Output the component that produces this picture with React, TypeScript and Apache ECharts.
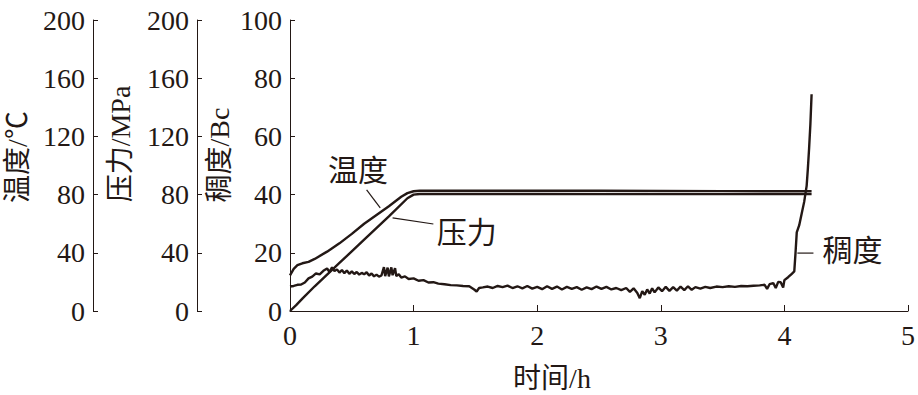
import React, { useEffect, useRef } from "react";
import * as echarts from "echarts";

const INK = "#231815";
const FONT = "'Liberation Serif', 'Noto Sans CJK SC', serif";
const CJK = "'Noto Sans CJK SC', 'Liberation Serif', serif";

// 温度 (℃)
const tempTime = [0, 0.03, 0.06, 0.1, 0.15, 0.2, 0.3, 0.4, 0.5, 0.6, 0.7, 0.8, 0.9, 0.95, 1.0, 1.05, 1.5, 2.0, 2.5, 3.0, 3.5, 4.0, 4.22];
const tempValue = [24.5, 29, 31.5, 32.8, 33.8, 35.8, 40.8, 46.5, 53, 60, 66, 72, 78.5, 81, 82.3, 82.6, 82.6, 82.7, 82.6, 82.5, 82.4, 82.3, 82.3];

// 压力 (MPa)
const presTime = [0, 0.05, 0.1, 0.2, 0.4, 0.6, 0.8, 0.95, 1.0, 1.05, 2, 3, 4, 4.22];
const presValue = [0, 4, 8.5, 17, 33, 49, 65, 77.5, 80, 80.4, 80.4, 80.3, 80.3, 80.3];

// 稠度 (Bc)
const consTime = [
  0.0, 0.03, 0.06, 0.09, 0.12, 0.15, 0.18, 0.21, 0.24, 0.27, 0.3, 0.32, 0.34, 0.36, 0.38, 0.4, 0.42, 0.44, 0.46, 0.48,
  0.5, 0.52, 0.54, 0.56, 0.58, 0.6, 0.62, 0.64, 0.66, 0.68, 0.7, 0.72, 0.74, 0.76, 0.77, 0.79, 0.8, 0.82, 0.83, 0.85,
  0.86, 0.88, 0.9, 0.93, 0.96, 1.0, 1.04, 1.08, 1.12, 1.16, 1.2, 1.25, 1.3, 1.35, 1.4, 1.45, 1.49, 1.51, 1.53, 1.56,
  1.6, 1.64, 1.68, 1.72, 1.76, 1.8, 1.84, 1.88, 1.92, 1.96, 2.0, 2.04, 2.08, 2.12, 2.16, 2.2, 2.24, 2.28, 2.32, 2.36,
  2.4, 2.44, 2.48, 2.52, 2.56, 2.6, 2.64, 2.68, 2.72, 2.75, 2.78, 2.81, 2.83, 2.85, 2.87, 2.89, 2.91, 2.93, 2.95, 2.98,
  3.01, 3.04, 3.07, 3.1, 3.13, 3.16, 3.19, 3.22, 3.25, 3.28, 3.32, 3.36, 3.4, 3.45, 3.5, 3.55, 3.6, 3.65, 3.7, 3.75,
  3.8, 3.84, 3.86, 3.88, 3.91, 3.93, 3.95, 3.97, 3.99, 4.0, 4.03, 4.06, 4.08, 4.09, 4.1, 4.12, 4.14, 4.16, 4.18, 4.19,
  4.2, 4.21, 4.22,
];
const consValue = [
  8.4, 8.6, 9.0, 9.1, 9.8, 11.2, 11.8, 12.9, 12.6, 13.8, 14.6, 13.4, 15.0, 13.7, 14.3, 13.2, 14.1, 13.0, 13.9, 12.8,
  13.6, 12.7, 13.4, 12.5, 13.1, 12.6, 13.3, 12.2, 12.9, 11.9, 12.5, 11.8, 12.2, 15.1, 12.0, 14.9, 11.9, 15.0, 12.3, 14.7,
  12.0, 12.6, 11.5, 11.9, 11.0, 11.2, 10.4, 10.6, 9.8, 9.9, 9.4, 9.2, 8.9, 8.8, 8.6, 8.5, 7.4, 6.7, 7.9, 8.1,
  8.4, 7.9, 8.6, 8.2, 8.7, 7.9, 8.5, 7.8, 8.6, 7.7, 8.3, 7.5, 8.5, 7.6, 8.4, 7.4, 8.3, 7.6, 8.2, 7.3,
  8.1, 7.5, 8.4, 7.6, 8.3, 7.4, 7.9, 7.2, 7.9, 6.6, 7.8, 6.2, 4.4, 6.8, 5.6, 7.4, 6.0, 7.8, 6.4, 8.1,
  6.8, 8.3, 6.9, 8.2, 7.0, 8.4, 7.2, 8.5, 7.3, 8.2, 7.7, 8.3, 7.9, 8.4, 8.2, 8.5, 8.3, 8.6, 8.5, 8.7,
  8.8, 9.0, 7.6, 9.2, 9.6, 7.9, 10.0, 9.9, 8.1, 10.6, 11.6, 12.8, 13.6, 20.0, 27.0, 29.5, 33.5, 37.5, 43.0, 49.0,
  56.0, 64.0, 74.5,
];

// 注释（数据坐标：时间 h，稠度轴数值）
const labelTexts = ["温度", "压力", "稠度"];
const labelAt = [[0.55, 49.1], [1.43, 27.8], [4.55, 21.6]];
const leaderFrom = [[0.62, 41.6], [0.83, 32.0], [4.105, 19.9]];
const leaderTo = [[0.73, 35.4], [1.16, 29.9], [4.235, 19.9]];

const pairs = (t: number[], v: number[]) => t.map((x, i) => [x, v[i]]);

export default function App() {
  const ref = useRef<HTMLDivElement>(null);
  useEffect(() => {
    const chart = echarts.init(ref.current!, null, { renderer: "svg" });
    const yBase = (offset: number, max: number, interval: number) => ({
      type: "value",
      position: "left",
      offset,
      min: 0,
      max,
      interval,
      axisLine: { show: true, onZero: false, lineStyle: { color: INK, width: 1 } },
      axisTick: { show: true, inside: true, length: 5, lineStyle: { color: INK } },
      axisLabel: { color: INK, fontSize: 28, fontFamily: FONT, margin: 8 },
      splitLine: { show: false },
    });
    const lineSeries = (name: string, data: number[][], yIdx: number) => ({
      name,
      type: "line",
      yAxisIndex: yIdx,
      data,
      showSymbol: false,
      symbol: "none",
      lineStyle: { color: INK, width: 2.4 },
      z: 3,
    });
    chart.setOption({
      animation: false,
      grid: { left: 290, right: 10, top: 20, bottom: 84, containLabel: false },
      xAxis: {
        type: "value",
        min: 0,
        max: 5,
        interval: 1,
        axisLine: { show: true, onZero: false, lineStyle: { color: INK, width: 1 } },
        axisTick: { show: true, inside: true, length: 6, lineStyle: { color: INK } },
        axisLabel: { color: INK, fontSize: 28, fontFamily: FONT, margin: 10 },
        splitLine: { show: false },
      },
      yAxis: [yBase(0, 100, 20), yBase(93, 200, 40), yBase(197, 200, 40)],
      series: [
        lineSeries("稠度", pairs(consTime, consValue), 0),
        lineSeries("压力", pairs(presTime, presValue), 1),
        lineSeries("温度", pairs(tempTime, tempValue), 2),
      ],
    });

    const px = (p: number[]) => chart.convertToPixel({ xAxisIndex: 0, yAxisIndex: 0 }, p) as number[];
    const graphics: any[] = [];
    labelTexts.forEach((t, i) => {
      const c = px(labelAt[i]);
      const a = px(leaderFrom[i]);
      const b = px(leaderTo[i]);
      graphics.push({
        type: "text",
        x: c[0],
        y: c[1],
        style: { text: t, fill: INK, fontSize: 30, fontFamily: CJK, align: "center", verticalAlign: "middle" },
      });
      graphics.push({
        type: "line",
        shape: { x1: a[0], y1: a[1], x2: b[0], y2: b[1] },
        style: { stroke: INK, lineWidth: 1.2 },
      });
    });
    const names = [
      { text: "温度/℃", x: 17, y: 157 },
      { text: "压力/MPa", x: 120, y: 144 },
      { text: "稠度/Bc", x: 219, y: 155 },
    ];
    names.forEach((n) =>
      graphics.push({
        type: "text",
        x: n.x,
        y: n.y,
        rotation: Math.PI / 2,
        style: { text: n.text, fill: INK, fontSize: 28, fontFamily: FONT, align: "center", verticalAlign: "middle" },
      })
    );
    graphics.push({
      type: "text",
      x: 552,
      y: 378,
      style: { text: "时间/h", fill: INK, fontSize: 28, fontFamily: FONT, align: "center", verticalAlign: "middle" },
    });
    chart.setOption({ graphic: graphics });
    return () => chart.dispose();
  }, []);
  return (
    <div
      ref={ref}
      style={{ position: "fixed", left: 0, top: 0, width: 918, height: 395, background: "#fff" }}
    />
  );
}
